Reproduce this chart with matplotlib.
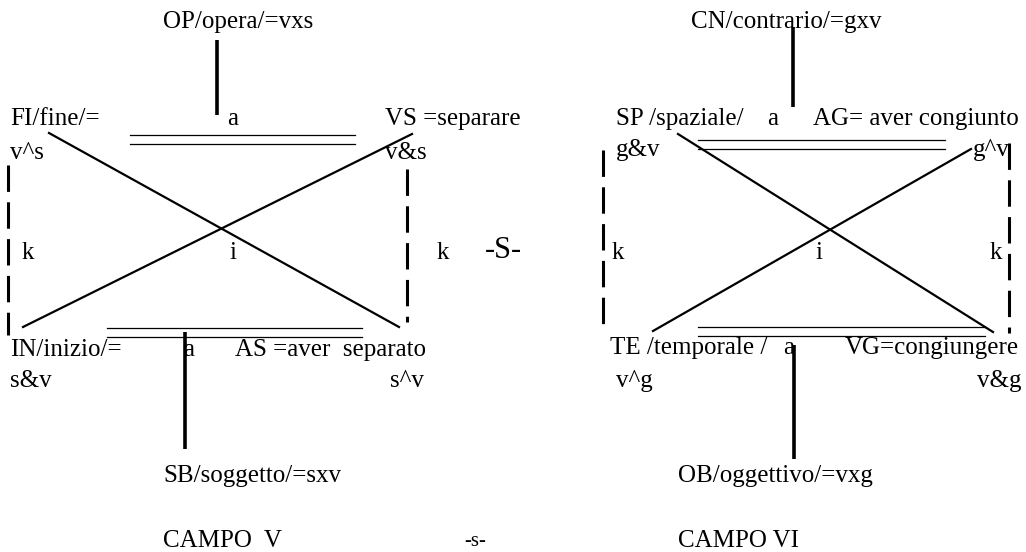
import matplotlib
matplotlib.use("Agg")
import matplotlib.pyplot as plt

plt.rcParams['font.family'] = ['Liberation Serif', 'DejaVu Serif']
plt.rcParams['lines.scale_dashes'] = False

# ---- text labels ----
labels = ["OP/opera/=vxs", "FI/fine/=", "a", "VS =separare", "v^s", "v&s",
          "k", "i", "k", "IN/inizio/=", "a", "AS =aver  separato", "s&v", "s^v",
          "SB/soggetto/=sxv", "CAMPO  V",
          "CN/contrario/=gxv", "SP /spaziale/", "a", "AG= aver congiunto",
          "g&v", "g^v", "k", "i", "k", "TE /temporale /", "a", "VG=congiungere",
          "v^g", "v&g", "OB/oggettivo/=vxg", "CAMPO VI"]
label_x = [163, 10, 227, 385, 10, 385,
           22, 229, 437, 10, 183, 235, 10, 390,
           163, 163,
           691, 616, 767, 813,
           616, 973, 612, 815, 990, 610, 783, 845,
           616, 977, 678, 678]
label_y = [22, 119, 119, 119, 153, 153,
           253, 253, 253, 350, 350, 350, 381, 381,
           476, 541,
           22, 119, 119, 119,
           150, 150, 253, 253, 253, 348, 348, 348,
           381, 381, 476, 541]

separator_labels = ["-S-", "-s-"]
separator_x = [485, 464]
separator_y = [251, 541]

# ---- line segments (x0, y0, x1, y1) ----
solid_thick = [(217, 40, 217, 115), (185, 332, 185, 449),
               (793, 27, 793, 107), (794, 345, 794, 459)]
thin_double = [(130, 135, 355, 135), (130, 144, 355, 144),
               (107, 328, 362, 328), (107, 337, 362, 337),
               (698, 140, 945, 140), (698, 149, 945, 149),
               (698, 327, 985, 327), (698, 336, 985, 336)]
diagonals = [(49, 133, 399, 327), (23, 327, 412, 134),
             (678, 134, 993, 332), (653, 331, 971, 149)]
dashed = [(8, 165, 8, 335), (407, 169, 407, 322),
          (603, 150, 603, 333), (1009, 143, 1009, 333)]

fig = plt.figure(figsize=(10.26, 5.52), dpi=100)
ax = fig.add_axes([0, 0, 1, 1])
ax.set_xlim(0, 1026)
ax.set_ylim(552, 0)
ax.axis('off')

for (x0, y0, x1, y1) in solid_thick:
    ax.plot([x0, x1], [y0, y1], color='black', lw=2.6, solid_capstyle='butt')
for (x0, y0, x1, y1) in thin_double:
    ax.plot([x0, x1], [y0, y1], color='black', lw=0.9)
for (x0, y0, x1, y1) in diagonals:
    ax.plot([x0, x1], [y0, y1], color='black', lw=1.6)
for (x0, y0, x1, y1) in dashed:
    ax.plot([x0, x1], [y0, y1], color='black', lw=2.2, dashes=(19, 7.5),
            solid_capstyle='butt', dash_capstyle='butt')

for t, x, y in zip(labels, label_x, label_y):
    ax.text(x, y, t, fontsize=18, ha='left', va='center', color='black')

ax.text(separator_x[0], separator_y[0], separator_labels[0], fontsize=22,
        ha='left', va='center', color='black')
ax.text(separator_x[1], separator_y[1], separator_labels[1], fontsize=15,
        ha='left', va='center', color='black')

fig.savefig("out.png", dpi=100)
